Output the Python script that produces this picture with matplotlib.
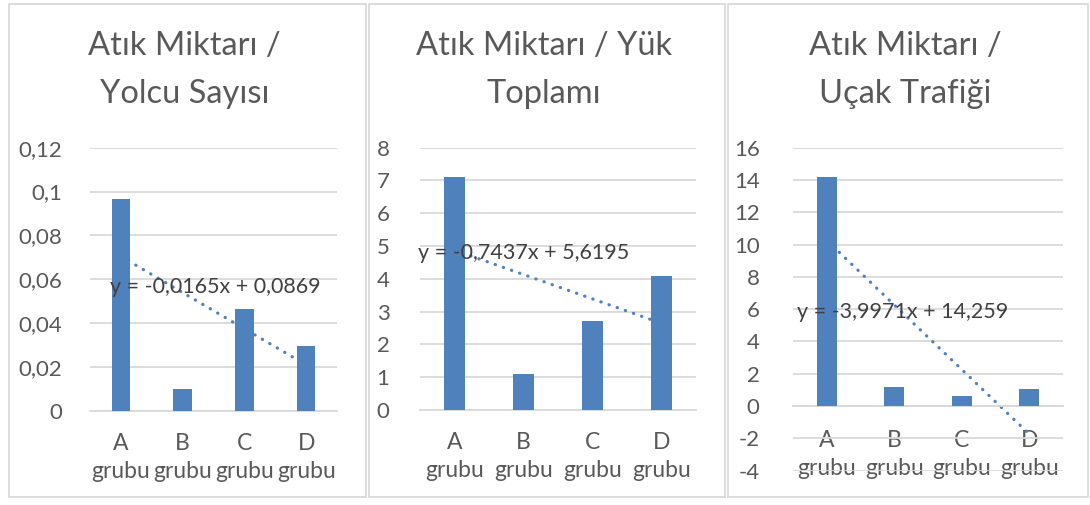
import matplotlib as mpl
import matplotlib.pyplot as plt
from matplotlib.patches import Rectangle
from matplotlib.ticker import FuncFormatter

mpl.rcParams["font.family"] = ["Lato", "DejaVu Sans"]

# data
categories = ["A\ngrubu", "B\ngrubu", "C\ngrubu", "D\ngrubu"]
titles = [
    "Atık Miktarı /\nYolcu Sayısı",
    "Atık Miktarı / Yük\nToplamı",
    "Atık Miktarı /\nUçak Trafiği",
]
yolcu = [0.0966, 0.0098, 0.0463, 0.0295]
yuk = [7.11, 1.09, 2.71, 4.09]
ucak = [14.18, 1.17, 0.62, 1.03]
slopes = [-0.0165, -0.7437, -3.9971]
intercepts = [0.0869, 5.6195, 14.259]
equations = [
    "y = -0,0165x + 0,0869",
    "y = -0,7437x + 5,6195",
    "y = -3,9971x + 14,259",
]

BAR = "#4F81BD"
GRID = "#D9D9D9"
TXT = "#595959"
W, H = 1090, 505


def px_axes(fig, left, top, right, bottom):
    return fig.add_axes([left / W, 1 - bottom / H, (right - left) / W, (bottom - top) / H])


def comma(v, pos):
    return ("%g" % round(v, 4)).replace(".", ",")


fig = plt.figure(figsize=(W / 100, H / 100), dpi=100)

# panel frames (x0, x1)
frames = [(9, 366), (369, 725), (728, 1088)]
for x0, x1 in frames:
    fig.add_artist(Rectangle((x0 / W, 1 - 497 / H), (x1 - x0) / W, (497 - 4) / H,
                             transform=fig.transFigure, fill=False,
                             edgecolor=GRID, linewidth=1.3))

panels = [
    dict(vals=yolcu, box=(90, 147.7, 337, 410.7), ylim=(0, 0.12), step=0.02,
         eq_at=(0.82, 0.0564), pad=20, xpad=16),
    dict(vals=yuk, box=(420, 147.7, 696, 410), ylim=(0, 8), step=1,
         eq_at=(0.47, 4.79), pad=22, xpad=16),
    dict(vals=ucak, box=(793, 147.7, 1063, 470.7), ylim=(-4, 16), step=2,
         eq_at=(0.56, 5.82), pad=24, xpad=17),
]

xs = [1, 2, 3, 4]
for i, p in enumerate(panels):
    ax = px_axes(fig, *p["box"])
    ax.set_xlim(0.5, 4.5)
    lo, hi = p["ylim"]
    ax.set_ylim(lo, hi)
    n = int(round((hi - lo) / p["step"]))
    ax.set_yticks([lo + k * p["step"] for k in range(n + 1)])
    ax.yaxis.set_major_formatter(FuncFormatter(comma))
    ax.grid(axis="y", color=GRID, linewidth=1.3, zorder=0)
    ax.set_axisbelow(True)
    for s in ["top", "right", "left"]:
        ax.spines[s].set_visible(False)
    ax.spines["bottom"].set_position(("data", 0))
    ax.spines["bottom"].set_color(GRID)
    ax.spines["bottom"].set_linewidth(1.3)

    ax.bar(xs, p["vals"], width=0.3, color=BAR, zorder=3)
    tx = [1, 4]
    ty = [slopes[i] * x + intercepts[i] for x in tx]
    ax.plot(tx, ty, color=BAR, linewidth=2.3, linestyle=(0, (0.1, 2.6)),
            dash_capstyle="round", zorder=2)
    ax.text(p["eq_at"][0], p["eq_at"][1], equations[i], fontsize=15.5,
            color="#404040", ha="left", va="center", zorder=4)

    ax.set_xticks(xs)
    ax.set_xticklabels(categories, linespacing=1.42)
    ax.tick_params(axis="x", length=0, pad=p["xpad"], labelsize=16.5, labelcolor=TXT)
    ax.tick_params(axis="y", length=0, pad=p["pad"], labelsize=16, labelcolor=TXT)
    ax.patch.set_alpha(0)

    cx = (frames[i][0] + frames[i][1]) / 2 - 3
    fig.text(cx / W, 1 - 70 / H, titles[i], fontsize=23.5, color=TXT,
             ha="center", va="center", linespacing=1.72)

fig.savefig("out.png", dpi=100, facecolor="white")
